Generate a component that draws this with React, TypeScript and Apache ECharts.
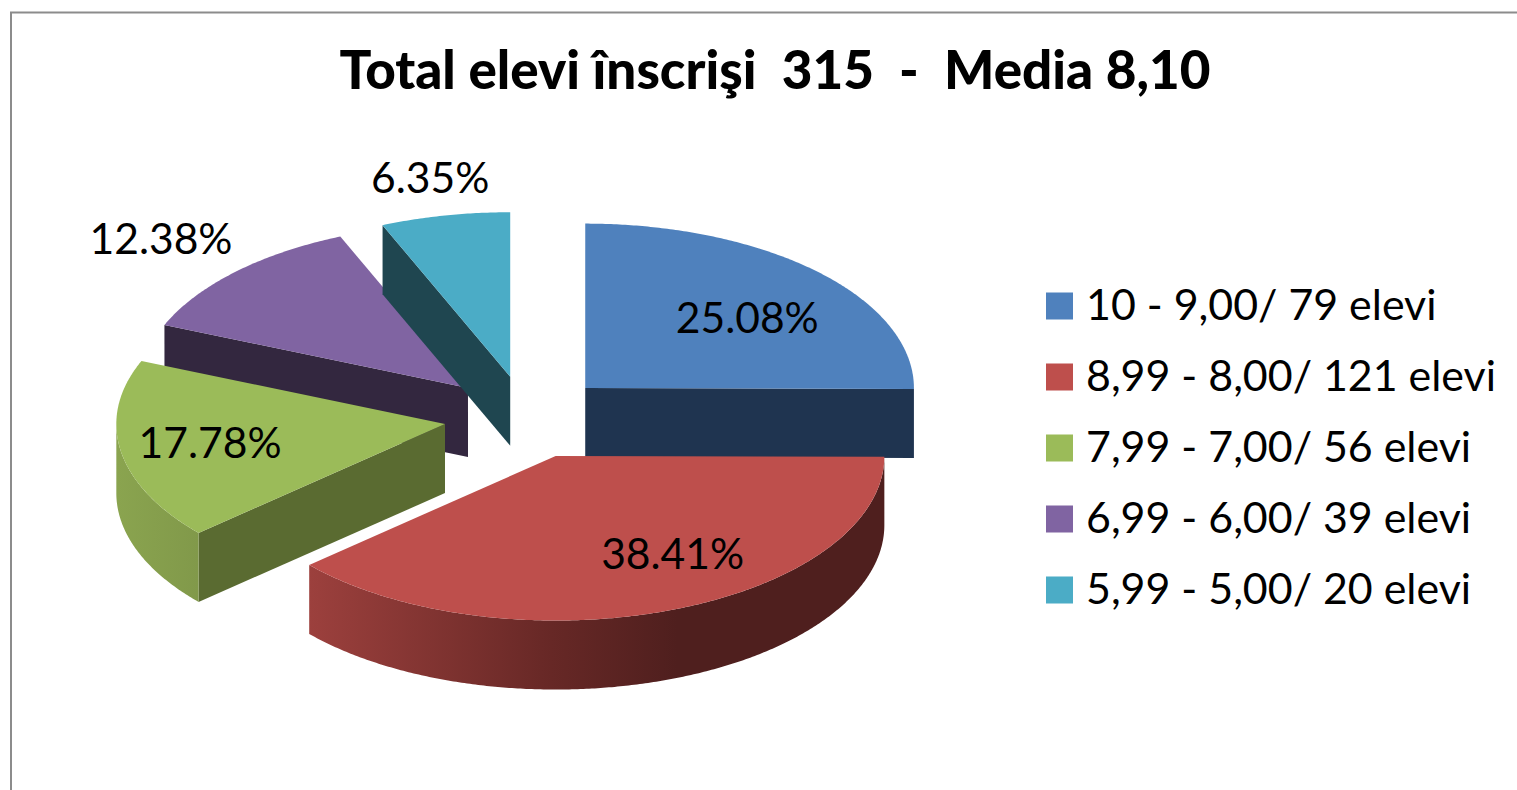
import React, { useEffect, useRef } from "react";
import * as echarts from "echarts";

const TITLE = "Total elevi înscrişi  315  -  Media 8,10";
const categories = [
  "10 - 9,00/ 79 elevi",
  "8,99 - 8,00/ 121 elevi",
  "7,99 - 7,00/ 56 elevi",
  "6,99 - 6,00/ 39 elevi",
  "5,99 - 5,00/ 20 elevi",
];
const students = [79, 121, 56, 39, 20];
const percentLabels = ["25.08%", "38.41%", "17.78%", "12.38%", "6.35%"];

const topColors = ["#4F81BD", "#BE4F4C", "#9BBB59", "#8064A2", "#4BACC6"];
const wallColors = ["#1F3450", "#4F1F1E", "#5A6B31", "#33273F", "#1F4650"];
const rimStops: [number, string][][] = [
  [[0, "#1F3450"], [1, "#1F3450"]],
  [[0, "#9C403D"], [0.42, "#672826"], [0.64, "#4F1F1E"], [1, "#4F1F1E"]],
  [[0, "#8AA44F"], [1, "#81994A"]],
  [[0, "#33273F"], [1, "#33273F"]],
  [[0, "#1F4650"], [1, "#1F4650"]],
];
const drawOrder = [4, 5, 3, 1, 2];
const labelOffsets = [
  [162, -72],
  [117, 96],
  [-235, 17],
  [-307, -151],
  [-80, -200],
];

const FONT = "Lato, 'Noto Sans', sans-serif";
const CX = 526.6;
const CY = 417.3;
const RX = 328.7;
const RY = 164.5;
const DEPTH = 69;
const EXPLODE = 82.7;
const LEGEND_ICON = "path://M0 0L27 0Z M0 5H27V32H0Z";
const total = students.reduce((a, b) => a + b, 0);

const rad = (deg: number) => (deg * Math.PI) / 180;
const onEllipse = (x: number, y: number, deg: number, k = 1): number[] => [
  x + k * RX * Math.sin(rad(deg)),
  y - k * RY * Math.cos(rad(deg)),
];

function renderSlice(index: number) {
  return (_params: any, api: any) => {
    const before = students.slice(0, index).reduce((a, b) => a + b, 0);
    const a0 = (before / total) * 360;
    const a1 = a0 + (api.value(0) / total) * 360;
    const mid = (a0 + a1) / 2;
    const apex = onEllipse(CX, CY, mid, EXPLODE / RX);
    const [ax, ay] = apex;
    const children: any[] = [];

    const arc = (from: number, to: number, dy = 0) => {
      const pts: number[][] = [];
      const steps = Math.max(2, Math.ceil((to - from) * 2));
      for (let i = 0; i <= steps; i++) {
        const p = onEllipse(ax, ay, from + ((to - from) * i) / steps);
        pts.push([p[0], p[1] + dy]);
      }
      return pts;
    };
    const wall = (deg: number) => {
      const e = onEllipse(ax, ay, deg);
      children.push({
        type: "polygon",
        shape: { points: [apex, e, [e[0], e[1] + DEPTH], [ax, ay + DEPTH]] },
        style: { fill: wallColors[index] },
      });
    };

    if (Math.sin(rad(a0)) < -1e-6) wall(a0);
    if (Math.sin(rad(a1)) > 1e-6) wall(a1);

    const r0 = Math.max(a0, 90);
    const r1 = Math.min(a1, 270);
    if (r1 > r0) {
      children.push({
        type: "polygon",
        shape: { points: [...arc(r0, r1), ...arc(r0, r1, DEPTH).reverse()] },
        style: {
          fill: new echarts.graphic.LinearGradient(
            0, 0, 1, 0,
            rimStops[index].map(([offset, color]) => ({ offset, color }))
          ),
        },
      });
    }

    children.push({
      type: "polygon",
      shape: { points: [apex, ...arc(a0, a1)] },
      style: { fill: topColors[index] },
    });

    children.push({
      type: "text",
      x: ax + labelOffsets[index][0],
      y: ay + labelOffsets[index][1],
      style: {
        text: percentLabels[index],
        align: "center",
        verticalAlign: "middle",
        font: `42.6px ${FONT}`,
        fill: "#000000",
      },
    });

    return { type: "group", children };
  };
}

export default function App() {
  const ref = useRef<HTMLDivElement>(null);
  useEffect(() => {
    const chart = echarts.init(ref.current!, null, { renderer: "svg" });
    chart.setOption({
      animation: false,
      backgroundColor: "#FFFFFF",
      title: {
        text: TITLE,
        left: 770,
        top: 37,
        textAlign: "center",
        textStyle: { fontFamily: FONT, fontWeight: 900, fontSize: 53, color: "#000000" },
      },
      legend: {
        data: categories.map((name) => ({ name, icon: LEGEND_ICON })),
        orient: "vertical",
        left: 1046,
        top: 282,
        padding: 0,
        itemWidth: 27,
        itemHeight: 32,
        itemGap: 28,
        selectedMode: false,
        textStyle: {
          fontFamily: FONT,
          fontSize: 42.9,
          color: "#000000",
          padding: [0, 0, 0, 8],
        },
      },
      graphic: [
        {
          type: "polyline",
          silent: true,
          shape: { points: [[11, 790], [11, 12.5], [1517, 12.5]] },
          style: { stroke: "#8C8C8C", lineWidth: 2, fill: "none" },
        },
      ],
      series: students.map((value, i) => ({
        type: "custom",
        name: categories[i],
        coordinateSystem: "none",
        silent: true,
        z: drawOrder[i],
        itemStyle: { color: topColors[i] },
        data: [value],
        renderItem: renderSlice(i),
      })),
    });
    return () => chart.dispose();
  }, []);
  return (
    <div
      ref={ref}
      style={{ position: "fixed", left: 0, top: 0, width: 1517, height: 790, overflow: "hidden" }}
    />
  );
}
